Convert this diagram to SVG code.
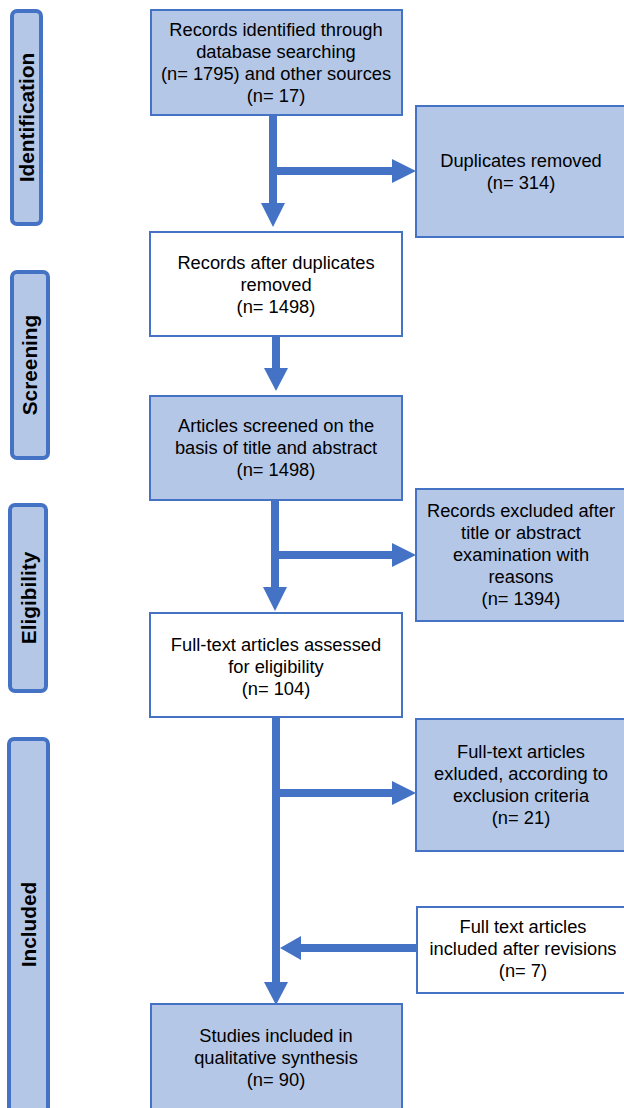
<svg xmlns="http://www.w3.org/2000/svg" width="624" height="1108" viewBox="0 0 624 1108">
<style>
.box{stroke:#4472C4;stroke-width:2}
.blue{fill:#B4C7E7}
.white{fill:#FFFFFF}
.side{fill:#B4C7E7;stroke:#4472C4;stroke-width:4}
.t{font-family:"Liberation Sans",Arial,sans-serif;font-size:18.3px;fill:#000;text-anchor:middle}
.lab{font-family:"Liberation Sans",Arial,sans-serif;font-size:20.8px;font-weight:bold;fill:#000;text-anchor:middle}
.sh{stroke:#4472C4;stroke-width:8;fill:none}
.hd{fill:#4472C4}
</style>
<rect width="624" height="1108" fill="#FFFFFF"/>
<g id="label-identification">
<rect class="side" x="12" y="11" width="29" height="213" rx="5"/>
<text class="lab" transform="translate(34.3,117.5) rotate(-90)">Identification</text>
</g>
<g id="label-screening">
<rect class="side" x="12" y="272" width="36" height="186" rx="5"/>
<text class="lab" transform="translate(36.7,365) rotate(-90)">Screening</text>
</g>
<g id="label-eligibility">
<rect class="side" x="10" y="505" width="36" height="186" rx="5"/>
<text class="lab" transform="translate(36,598) rotate(-90)">Eligibility</text>
</g>
<g id="label-included">
<rect class="side" x="9" y="739" width="39" height="375" rx="5"/>
<text class="lab" transform="translate(36,924.5) rotate(-90)">Included</text>
</g>
<g id="connectors">
<line class="sh" x1="273" y1="115" x2="273" y2="205"/>
<polygon class="hd" points="261,203 285,203 273,227"/>
<line class="sh" x1="273" y1="171" x2="394" y2="171"/>
<polygon class="hd" points="392,159 392,183 416,171"/>
<line class="sh" x1="276" y1="336" x2="276" y2="370"/>
<polygon class="hd" points="264,368 288,368 276,391"/>
<line class="sh" x1="275" y1="500" x2="275" y2="589"/>
<polygon class="hd" points="263,587 287,587 275,611"/>
<line class="sh" x1="275" y1="555" x2="394" y2="555"/>
<polygon class="hd" points="392,543 392,567 416,555"/>
<line class="sh" x1="276" y1="717" x2="276" y2="984"/>
<polygon class="hd" points="264,982 288,982 276,1005"/>
<line class="sh" x1="276" y1="793" x2="394" y2="793"/>
<polygon class="hd" points="392,781 392,805 416,793"/>
<line class="sh" x1="417" y1="948" x2="298" y2="948"/>
<polygon class="hd" points="301,936 301,960 280,948"/>
</g>
<g id="records-identified">
<rect class="box blue" x="151" y="10" width="251" height="105"/>
<text class="t" x="276" y="36">Records identified through</text>
<text class="t" x="276" y="58">database searching</text>
<text class="t" x="276" y="80">(n= 1795) and other sources</text>
<text class="t" x="276" y="102">(n= 17)</text>
</g>
<g id="duplicates-removed">
<rect class="box blue" x="416" y="106" width="210" height="131"/>
<text class="t" x="521" y="167">Duplicates removed</text>
<text class="t" x="521" y="189">(n= 314)</text>
</g>
<g id="records-after-duplicates">
<rect class="box white" x="150" y="232" width="252" height="104"/>
<text class="t" x="276" y="269">Records after duplicates</text>
<text class="t" x="276" y="291">removed</text>
<text class="t" x="276" y="313">(n= 1498)</text>
</g>
<g id="articles-screened">
<rect class="box blue" x="150" y="396" width="252" height="104"/>
<text class="t" x="276" y="432">Articles screened on the</text>
<text class="t" x="276" y="454">basis of title and abstract</text>
<text class="t" x="276" y="476">(n= 1498)</text>
</g>
<g id="records-excluded">
<rect class="box blue" x="416" y="489" width="210" height="132"/>
<text class="t" x="521" y="517">Records excluded after</text>
<text class="t" x="521" y="539">title or abstract</text>
<text class="t" x="521" y="561">examination with</text>
<text class="t" x="521" y="583">reasons</text>
<text class="t" x="521" y="605">(n= 1394)</text>
</g>
<g id="full-text-assessed">
<rect class="box white" x="150" y="613" width="252" height="104"/>
<text class="t" x="276" y="651">Full-text articles assessed</text>
<text class="t" x="276" y="673">for eligibility</text>
<text class="t" x="276" y="695">(n= 104)</text>
</g>
<g id="full-text-excluded">
<rect class="box blue" x="416" y="719" width="210" height="132"/>
<text class="t" x="521" y="758">Full-text articles</text>
<text class="t" x="521" y="780">exluded, according to</text>
<text class="t" x="521" y="802">exclusion criteria</text>
<text class="t" x="521" y="824">(n= 21)</text>
</g>
<g id="full-text-included">
<rect class="box white" x="417" y="907" width="212" height="86"/>
<text class="t" x="523" y="933">Full text articles</text>
<text class="t" x="523" y="955">included after revisions</text>
<text class="t" x="523" y="977">(n= 7)</text>
</g>
<g id="studies-included">
<rect class="box blue" x="151" y="1004" width="251" height="108"/>
<text class="t" x="276" y="1042">Studies included in</text>
<text class="t" x="276" y="1064">qualitative synthesis</text>
<text class="t" x="276" y="1086">(n= 90)</text>
</g>
</svg>
